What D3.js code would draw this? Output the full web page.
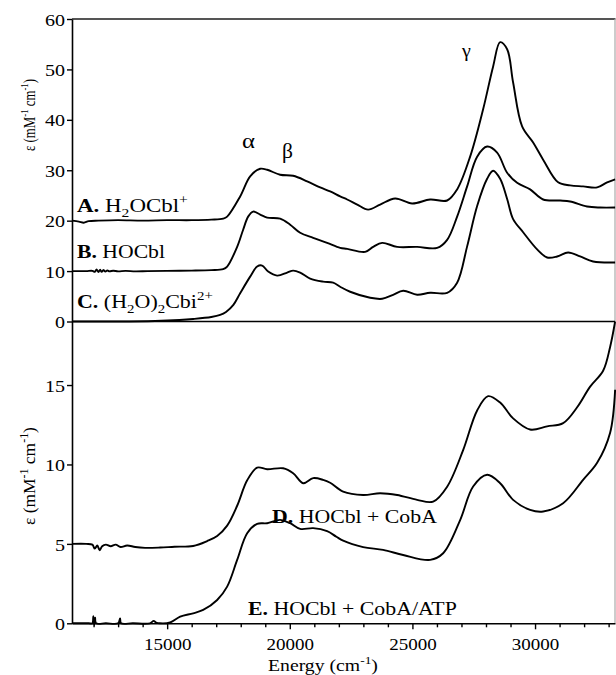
<!DOCTYPE html>
<html>
<head>
<meta charset="utf-8">
<script src="https://cdn.jsdelivr.net/npm/d3@7/dist/d3.min.js"></script>
<style>
  html, body { margin: 0; padding: 0; background: #fff; }
  svg { display: block; }
  svg text { font-family: "Liberation Serif", "Times New Roman", Times, "DejaVu Serif", serif; }
</style>
</head>
<body>
<svg id="chart" width="616" height="675"></svg>
<script>
// Electronic absorption spectra (energy in cm^-1, extinction in mM^-1 cm^-1)
// Upper panel: A, B, C are stacked with vertical offsets.
const aEnergy = [11127, 11400, 11600, 11800, 12200, 13000, 14000, 15000, 16000, 16800,
  17283, 17446, 17976, 18384, 18792, 19077, 19607, 20137, 20708, 21238,
  21646, 22053, 22339, 22750, 23195, 23684, 24296, 24989, 25723, 26416,
  26823, 27353, 27883, 28291, 28576, 28862, 29106, 29473, 29922, 30330,
  30941, 31430, 31960, 32531, 32939, 33265];
const aEps = [0, -0.2, -0.4, -0.1, 0, 0.1, 0, 0.1, 0.1, 0.2,
  0.4, 0.8, 4.8, 8.8, 10.3, 10.1, 9.1, 8.9, 7.8, 6.6,
  5.8, 4.8, 4.2, 3.2, 2.2, 3.2, 4.4, 3.4, 4.2, 4.0,
  6.2, 12.7, 22.1, 30.6, 35.4, 34.0, 27.4, 18.7, 15.5, 12.1,
  7.6, 7.0, 6.8, 6.6, 7.6, 8.2];

const bEnergy = [11127, 11700, 11950, 12050, 12120, 12200, 12260, 12330, 12400, 12480,
  12560, 12650, 12800, 13000, 13300, 13700, 14200, 15000, 16000, 16800,
  17283, 17446, 17854, 18098, 18302, 18506, 18792, 19077, 19607, 20015,
  20423, 20953, 21523, 22053, 22339, 23073, 23399, 23766, 24377, 25193,
  26008, 26416, 26823, 27231, 27639, 28046, 28454, 28862, 29269, 29799,
  30330, 31023, 31430, 32123, 32653, 33265];
const bEps = [0, 0, 0.05, -0.15, 0.3, -0.2, 0.25, -0.15, 0.2, -0.1,
  0.12, -0.05, 0.08, -0.05, 0.05, -0.05, 0, 0.05, 0.1, 0.2,
  0.4, 0.9, 4.8, 8.2, 10.8, 11.8, 11.2, 10.6, 10.4, 9.2,
  7.6, 6.6, 5.6, 4.6, 4.4, 3.8, 4.8, 5.6, 4.8, 4.8,
  4.6, 6.2, 10.8, 16.8, 22.7, 24.7, 23.5, 19.5, 17.5, 16.2,
  14.2, 14.0, 13.8, 12.8, 12.6, 12.6];

const cEnergy = [11127, 13000, 14500, 15500, 16060, 16800, 17160, 17400, 17700, 17976,
  18384, 18669, 18873, 19118, 19484, 19892, 20137, 20423, 20830, 21360,
  21768, 22053, 22461, 23277, 23766, 24214, 24622, 25193, 25723, 26416,
  26823, 27231, 27639, 28046, 28291, 28576, 28862, 29106, 29514, 30085,
  30493, 30901, 31349, 31838, 32368, 33265];
const cEps = [0, 0, 0.1, 0.3, 0.5, 0.9, 1.3, 1.9, 3.3, 5.6,
  8.9, 10.9, 11.1, 9.9, 9.1, 9.7, 10.1, 9.7, 8.5, 7.9,
  7.7, 6.9, 5.9, 4.7, 4.5, 5.3, 6.1, 5.3, 5.7, 5.7,
  7.7, 14.9, 22.9, 28.3, 29.9, 28.3, 24.3, 20.3, 17.7, 14.3,
  12.7, 12.9, 13.7, 12.9, 11.9, 11.7];

// Lower panel: D offset by 5, E on the baseline.
const dEnergy = [11127, 11700, 11950, 12050, 12150, 12250, 12350, 12500, 12700, 12900,
  13100, 13369, 13700, 14100, 14715, 15300, 16060, 16631, 17039, 17446,
  17854, 18262, 18669, 19077, 19729, 20137, 20545, 20953, 21360, 21646,
  22176, 22991, 23684, 24377, 25193, 25845, 26416, 27068, 27639, 28087,
  28576, 29106, 29799, 30493, 31145, 31716, 32246, 32776, 33061, 33265];
const dEps = [0, 0, -0.05, -0.3, -0.1, -0.4, -0.15, -0.05, -0.15, -0.05,
  -0.2, -0.1, -0.2, -0.25, -0.23, -0.18, -0.13, 0.18, 0.5, 1.15,
  2.4, 4.0, 4.8, 4.7, 4.76, 4.45, 3.82, 4.14, 4.03, 3.85,
  3.29, 3.08, 3.19, 3.08, 2.77, 2.66, 3.6, 5.9, 8.4, 9.3,
  8.9, 7.9, 7.2, 7.4, 7.6, 8.6, 9.9, 10.9, 12.4, 14.0];

const eEnergy = [11127, 11800, 11950, 11990, 12030, 12060, 12100, 12500, 13000, 13080,
  13120, 13600, 14300, 14450, 14550, 14700, 15122, 15530, 16060, 16468,
  17039, 17446, 17854, 18262, 18669, 19077, 19607, 20015, 20423, 20953,
  21523, 21900, 22176, 22991, 23807, 24622, 25723, 26253, 26946, 27476,
  28046, 28576, 29106, 29799, 30330, 31145, 31960, 32531, 33061, 33265];
const eEps = [0, 0, 0, 0.45, -0.1, 0.35, 0, 0, 0, 0.3,
  0, 0, 0, 0.15, 0.05, 0, 0.05, 0.42, 0.63, 0.84,
  1.47, 2.31, 3.99, 5.67, 6.26, 6.3, 6.51, 6.3, 5.94, 5.99,
  5.8, 5.45, 5.2, 4.8, 4.62, 4.3, 3.99, 4.41, 6.5, 8.61,
  9.35, 8.82, 7.77, 7.14, 7.04, 7.56, 9.03, 10.1, 12.0, 14.7];

const offsets = { A: 20, B: 10, C: 0, D: 5, E: 0 };
const topTicks = [0, 10, 20, 30, 40, 50, 60];
const bottomTicks = [0, 5, 10, 15];
const xMajorTicks = [15000, 20000, 25000, 30000];

const svg = d3.select("#chart");
const SX = 1.18; // horizontal stretch of tick lettering
const FONT = '"Liberation Serif", "Times New Roman", Times, "DejaVu Serif", serif';

const x = d3.scaleLinear().domain([11120, 33260]).range([72, 615]);
const yTop = d3.scaleLinear().domain([0, 60]).range([321.5, 19]);
const yBot = d3.scaleLinear().domain([0, 19]).range([623.3, 321.5]);

// frame: top border and right border
svg.append("line").attr("x1", 72).attr("x2", 615.5).attr("y1", 19).attr("y2", 19)
  .attr("stroke", "#555").attr("stroke-width", 2);
svg.append("line").attr("x1", 615).attr("x2", 615).attr("y1", 19).attr("y2", 623.3)
  .attr("stroke", "#aaa").attr("stroke-width", 1.2);

function styleAxis(g) {
  g.attr("font-family", FONT);
  g.selectAll("path.domain").attr("stroke", "#000").attr("stroke-width", 1.6);
  g.selectAll(".tick line").attr("stroke", "#000").attr("stroke-width", 1.4);
  g.selectAll(".tick text").attr("font-family", FONT)
    .attr("font-size", 17).attr("fill", "#000");
}

// left axes
const gTop = svg.append("g").attr("transform", "translate(72,0)")
  .call(d3.axisLeft(yTop).tickValues(topTicks).tickSize(5).tickSizeOuter(0).tickPadding(1));
styleAxis(gTop);
const gBot = svg.append("g").attr("transform", "translate(72,0)")
  .call(d3.axisLeft(yBot).tickValues(bottomTicks).tickSize(5).tickSizeOuter(0).tickPadding(1));
styleAxis(gBot);
[gTop, gBot].forEach(g => g.selectAll(".tick text")
  .attr("transform", `scale(${SX},1)`).attr("dy", "0.36em"));

// zero line of the upper panel (separates the two panels)
svg.append("line").attr("x1", 72).attr("x2", 615).attr("y1", yTop(0)).attr("y2", yTop(0))
  .attr("stroke", "#000").attr("stroke-width", 1.6);

// bottom energy axis, minor ticks every 1000
const xTicks = d3.range(12000, 33001, 1000);
const gX = svg.append("g").attr("transform", `translate(0,${yBot(0)})`)
  .call(d3.axisBottom(x).tickValues(xTicks).tickSize(4).tickSizeOuter(0)
    .tickFormat(d => xMajorTicks.includes(d) ? d3.format("d")(d) : ""));
styleAxis(gX);
gX.selectAll(".tick").filter(d => xMajorTicks.includes(d)).select("line").attr("y2", 6);
gX.selectAll(".tick text").attr("y", 0).attr("dy", 0)
  .attr("transform", `translate(0,27) scale(1.12,1)`);

// spectra
const line = d3.line().curve(d3.curveCatmullRom.alpha(0.5));
function spectrum(energy, eps, off, y) {
  const pts = energy.map((e, i) => [x(e), y(eps[i] + off)]);
  svg.append("path").attr("d", line(pts)).attr("fill", "none")
    .attr("stroke", "#000").attr("stroke-width", 1.9).attr("stroke-linejoin", "round");
}
spectrum(aEnergy, aEps, offsets.A, yTop);
spectrum(bEnergy, bEps, offsets.B, yTop);
spectrum(cEnergy, cEps, offsets.C, yTop);
spectrum(dEnergy, dEps, offsets.D, yBot);
spectrum(eEnergy, eEps, offsets.E, yBot);

// rich text helper: parts = [{t, b (bold), s: 'sub'|'sup'}]; len stretches the run
function richText(px, py, parts, fs, len, rotate) {
  const t = svg.append("text").attr("font-family", FONT)
    .attr("font-size", fs).attr("fill", "#000");
  let cur = 0;
  parts.forEach(p => {
    const want = p.s === "sub" ? 0.3 * fs : p.s === "sup" ? -0.42 * fs : 0;
    const sp = t.append("tspan").text(p.t).attr("dy", want - cur);
    if (p.s) sp.attr("font-size", fs * 0.68);
    if (p.b) sp.attr("font-weight", "bold");
    cur = want;
  });
  const w = t.node().getBBox().width;
  const k = len ? len / w : 1;
  t.attr("transform", `translate(${px},${py})` + (rotate ? " rotate(-90)" : "") + ` scale(${k},1)`);
  return t;
}

// curve labels
richText(77, 212, [{t: "A.", b: 1}, {t: " H"}, {t: "2", s: "sub"}, {t: "OCbl"}, {t: "+", s: "sup"}], 18, 111);
richText(77, 258, [{t: "B.", b: 1}, {t: " HOCbl"}], 18, 88);
richText(77, 308, [{t: "C.", b: 1}, {t: " (H"}, {t: "2", s: "sub"}, {t: "O)"}, {t: "2", s: "sub"}, {t: "Cbi"}, {t: "2+", s: "sup"}], 18, 136);
richText(272, 523, [{t: "D.", b: 1}, {t: " HOCbl + CobA"}], 18, 165);
richText(248, 615, [{t: "E.", b: 1}, {t: " HOCbl + CobA/ATP"}], 18, 209);

// band labels
richText(242, 148, [{t: "α"}], 21, 13);
richText(282, 158, [{t: "β"}], 20, 11);
richText(462, 57, [{t: "γ"}], 18, 10);

// axis titles
const yTitle = [{t: "ε (mM"}, {t: "-1", s: "sup"}, {t: " cm"}, {t: "-1", s: "sup"}, {t: ")"}];
richText(35, 151, yTitle, 16, 72, true);
richText(35, 525, yTitle, 17, 98, true);
richText(268, 671, [{t: "Energy (cm"}, {t: "-1", s: "sup"}, {t: ")"}], 16, 110);
</script>
</body>
</html>
